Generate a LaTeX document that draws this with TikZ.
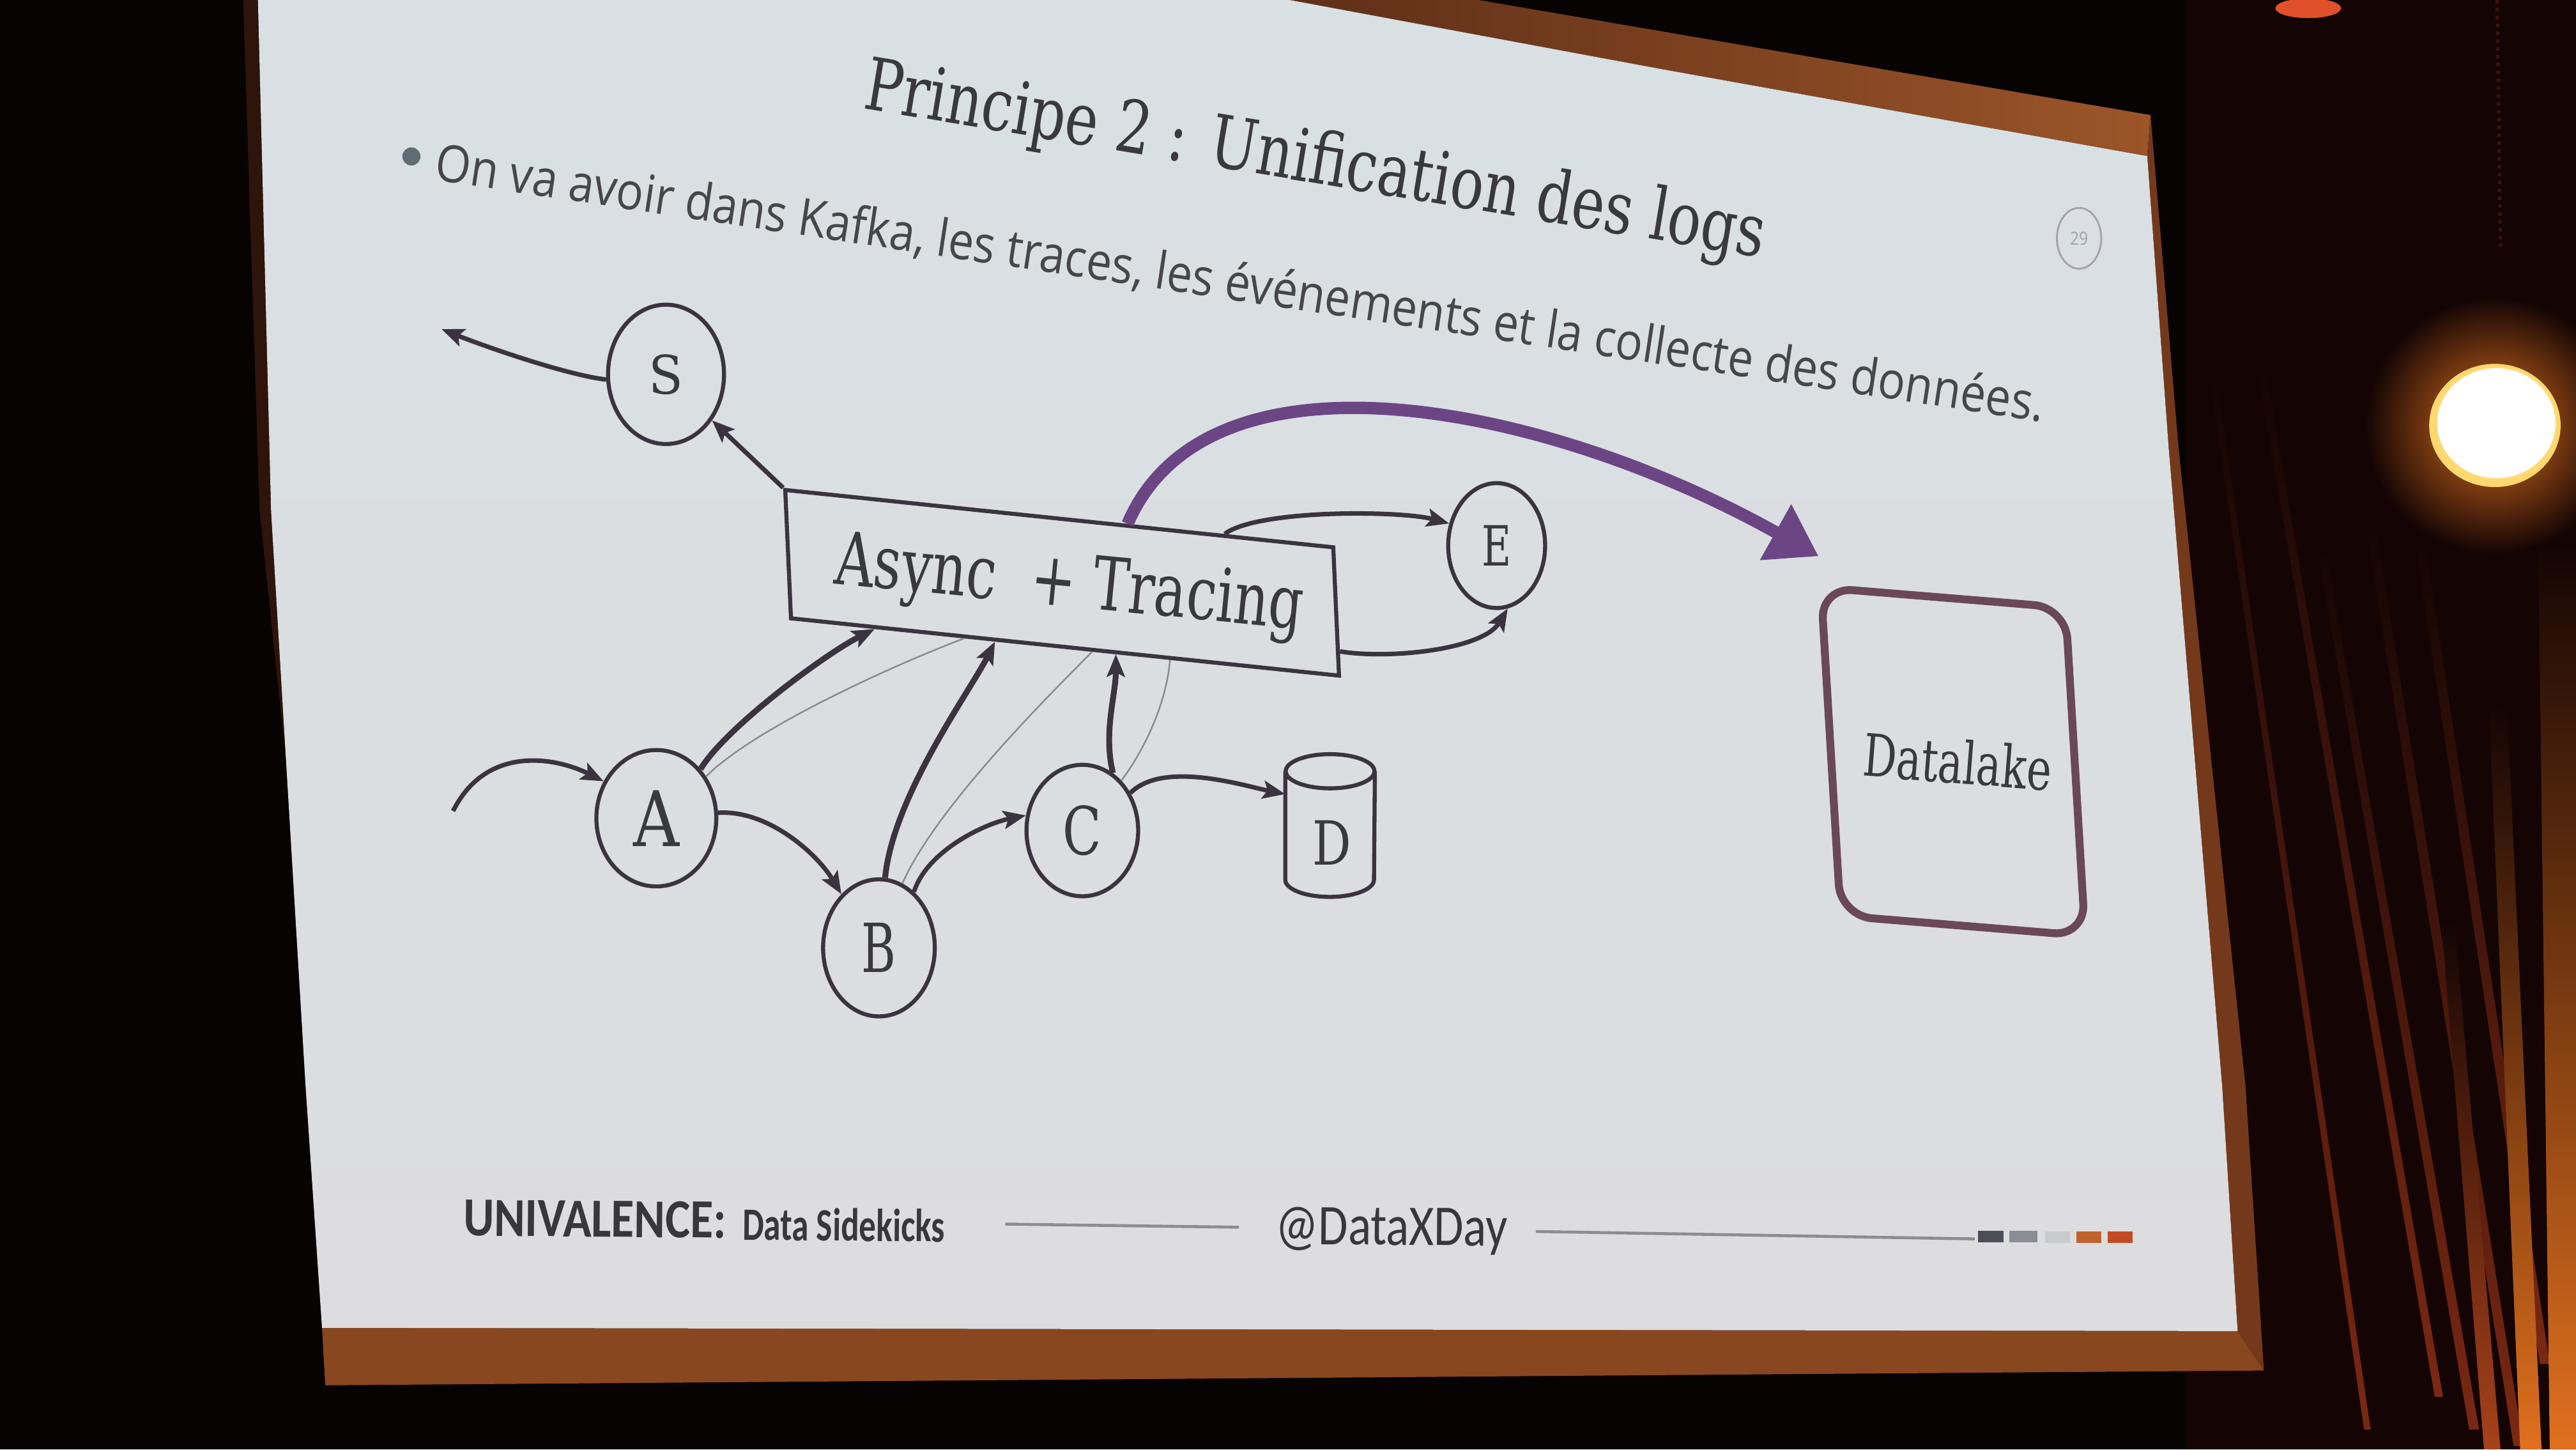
\documentclass[tikz,border=0pt]{standalone}
\usepackage{fontspec}
\usepackage{graphicx}
\usetikzlibrary{arrows.meta,shapes.geometric,calc}
\newfontfamily\serifT{DejaVu Serif}
\newfontfamily\sansT{Open Sans}
\newfontfamily\footT{Carlito}
\newlength\ux \setlength\ux{0.025714cm}
\definecolor{bgdark}{HTML}{070303}
\definecolor{curt}{HTML}{140504}
\definecolor{fold}{HTML}{7A2812}
\definecolor{framec}{HTML}{88471F}
\definecolor{frameside}{HTML}{74391B}
\definecolor{frametl}{HTML}{5E2F17}
\definecolor{frametr}{HTML}{9C5529}
\definecolor{leftstrip}{HTML}{2E140B}
\definecolor{slidetop}{HTML}{D8E0E3}
\definecolor{slidebot}{HTML}{DDDCDF}
\definecolor{lc}{HTML}{3B3440}
\definecolor{thinc}{HTML}{8E8892}
\definecolor{txt}{HTML}{3A393D}
\definecolor{bul}{HTML}{47474A}
\definecolor{bulc}{HTML}{5F6E72}
\definecolor{purp}{HTML}{6C4585}
\definecolor{dlc}{HTML}{6A4859}
\definecolor{pgc}{HTML}{A3A3A8}
\definecolor{foot}{HTML}{38383B}
\definecolor{footl}{HTML}{8D8D91}
\definecolor{sqa}{HTML}{4B4E56}
\definecolor{sqb}{HTML}{8A8D94}
\definecolor{sqc}{HTML}{C9CBCD}
\definecolor{sqd}{HTML}{C0622E}
\definecolor{sqe}{HTML}{C44A24}
\definecolor{orA}{HTML}{E0701E}
\definecolor{orB}{HTML}{A8421A}
\definecolor{lampy}{HTML}{FFD870}
\definecolor{redl}{HTML}{E0502A}
\begin{document}
\begin{tikzpicture}[x=0.025714cm, y=-0.025714cm,
  nodecirc/.style={ellipse, draw=lc, line width=1.8pt, inner sep=0pt, text=txt},
  conn/.style={draw=lc, line width=2pt, -{Stealth[length=10pt,width=8pt,inset=2pt]}},
  thickconn/.style={conn, line width=2.6pt},
  thinline/.style={draw=thinc, line width=0.7pt},
  purparrow/.style={draw=purp, line width=5.5pt, -{Triangle[length=22pt,width=27pt]}},
  txtnode/.style={inner sep=0pt, outer sep=0pt},
  footline/.style={draw=footl, line width=1.3pt},
  foldfill/.style={top color=curt, bottom color=fold},
]
\useasboundingbox (0,0) rectangle (1568,882);
% ---- room background ----
\fill[bgdark] (0,0) rectangle (1568,882);
\fill[curt] (1330,0) rectangle (1568,882);
% curtain folds
\shade[foldfill] (1345,230) -- (1349,230) -- (1443,870) -- (1439,870) -- cycle;
\shade[foldfill] (1374,225) -- (1379,225) -- (1487,850) -- (1482,850) -- cycle;
\shade[foldfill] (1410,330) -- (1415,330) -- (1509,870) -- (1503,870) -- cycle;
\shade[foldfill] (1440,320) -- (1446,320) -- (1536,880) -- (1530,880) -- cycle;
\shade[foldfill] (1470,330) -- (1476,330) -- (1552,830) -- (1546,830) -- cycle;
\shade[top color=curt, bottom color=orB] (1486,560) -- (1494,560) -- (1522,882) -- (1512,882) -- cycle;
\shade[top color=curt, bottom color=orA] (1515,430) -- (1526,430) -- (1547,882) -- (1534,882) -- cycle;
\shade[top color=curt, bottom color=orA] (1545,330) -- (1568,330) -- (1568,882) -- (1552,882) -- cycle;
\draw[curt!60!fold, line width=1.5pt, dotted] (1520,0) -- (1522,150);
% lamp
\shade[inner color=orA, outer color=curt] (1518,259) circle (78);
\fill[lampy] (1518.6,258.9) ellipse (40 and 37.5);
\fill[white] (1519.5,257.5) ellipse (36 and 33.5);
\fill[redl] (1405,5) ellipse (20 and 6);
% ---- screen frame ----
\fill[framec] (196,808) -- (1362,810) -- (1378,834) -- (198,843) -- cycle;
\fill[frameside] (1307,95) -- (1309,70) -- (1326,272) -- (1366.8,661) -- (1378,834) -- (1362,810) -- (1352.6,661) -- (1320,272) -- cycle;
\shade[left color=frametl, right color=frametr] (785,0) -- (900,0) -- (1309,70) -- (1307,95) -- (1011,42) -- cycle;
\fill[leftstrip] (148,0) -- (157,0) -- (165,311) -- (176,480) -- (158,311) -- cycle;
% ---- slide ----
\shade[top color=slidetop, bottom color=slidebot] (157,0) -- (785,0) -- (1011,42) -- (1307,95) -- (1320,272) -- (1352.6,661) -- (1362,810) -- (196,808) -- (186,661) -- (165,311) -- cycle;
% ---- title and bullet ----
\node[txtnode, anchor=base west, rotate=-9.4, text=txt] (title) at (524.7,65.9)
  {\resizebox{555\ux}{33.5\ux}{\serifT Principe 2 : Unification des logs}};
\node[circle, fill=bulc, minimum size=11\ux, inner sep=0pt] (dot) at (250.4,95.2) {};
\node[txtnode, anchor=base west, rotate=-8.55, text=bul] (bullet) at (264,109.5)
  {\resizebox{990\ux}{24\ux}{\sansT On va avoir dans Kafka, les traces, les événements et la collecte des données.}};
\node[ellipse, draw=pgc, line width=0.8pt, minimum width=27\ux, minimum height=37\ux, inner sep=0pt, text=pgc] (pg) at (1265.5,145)
  {\resizebox{11\ux}{8\ux}{\sansT 29}};
% ---- footer ----
\node[txtnode, anchor=base west, rotate=-0.5, text=foot] (univ) at (282,752)
  {\resizebox{160\ux}{22\ux}{\footT\bfseries UNIVALENCE:}};
\node[txtnode, anchor=base west, rotate=-0.5, text=foot] (sidek) at (452,754.6)
  {\resizebox{123\ux}{19.8\ux}{\footT\bfseries Data Sidekicks}};
\node[txtnode, anchor=base west, rotate=-0.5, text=foot] (dxd) at (776.5,757)
  {\resizebox{141\ux}{22.5\ux}{\footT @DataXDay}};
\draw[footline] (611.9,744.9) -- (754.2,746.8);
\draw[footline] (934.8,749.4) -- (1202,753.9);
\fill[sqa] (1204,749) rectangle (1219.5,756);
\fill[sqb] (1223,749) rectangle (1240,756);
\fill[sqc] (1245,749.5) rectangle (1260,756.5);
\fill[sqd] (1264,749.5) rectangle (1279,756.5);
\fill[sqe] (1283,749.5) rectangle (1298,756.5);
% ---- diagram nodes ----
\node[draw=lc, line width=1.8pt, minimum width=335.4\ux, minimum height=77.3\ux, inner sep=0pt,
      rotate=-5.97, xslant=-0.15] (box) at (646.5,354.65) {};
\node[txtnode, anchor=base, rotate=-5.6, text=txt] (boxtxt) at (649.5,369)
  {\resizebox{286\ux}{33\ux}{\serifT Async\ \ + Tracing}};
\node[draw=dlc, line width=3.5pt, rounded corners=14pt, minimum width=149.35\ux, minimum height=198.06\ux,
      inner sep=0pt, rotate=-4.686, xslant=-0.1425] (dl) at (1188.8,463.5) {};
\node[txtnode, anchor=base, rotate=-4.5, text=txt] (dltxt) at (1190.6,476.6)
  {\resizebox{115\ux}{27\ux}{\serifT Datalake}};
\node[nodecirc, minimum width=70.6\ux, minimum height=84.8\ux] (S) at (405.4,227.8) {\resizebox{21\ux}{24\ux}{\serifT S}};
\node[nodecirc, minimum width=73\ux, minimum height=83\ux] (A) at (399.5,497.9) {\resizebox{28\ux}{34\ux}{\serifT A}};
\node[nodecirc, minimum width=68\ux, minimum height=83.4\ux] (B) at (535,576.8) {\resizebox{21\ux}{30\ux}{\serifT B}};
\node[nodecirc, minimum width=68\ux, minimum height=80\ux] (C) at (658.8,505.4) {\resizebox{23.6\ux}{30\ux}{\serifT C}};
\node[nodecirc, minimum width=59\ux, minimum height=76\ux] (E) at (911,332) {\resizebox{18\ux}{24.6\ux}{\serifT E}};
% cylinder D
\node[minimum width=54\ux, minimum height=86.3\ux, inner sep=0pt] (Dc) at (809.6,502.35) {};
\draw[lc, line width=1.8pt] ($(Dc.north)+(0,10.4)$) ellipse (27 and 10.4);
\draw[lc, line width=1.8pt] ($(Dc.north west)+(0,10.4)$) -- ($(Dc.south west)+(0,-10.4)$)
   arc[start angle=180, end angle=0, x radius=27, y radius=10.4] -- ($(Dc.north east)+(0,10.4)$);
\node[txtnode, text=txt] (D) at (810.9,512.8) {\resizebox{23.6\ux}{27\ux}{\serifT D}};
% ---- connectors ----
\coordinate (Sout) at (268.8,200.3);
\coordinate (Ain) at (275.8,493.5);
\coordinate (Dtip) at ($(Dc.north west)!0.28!(Dc.south west)$);
\coordinate (dltip) at (1107,338.5);
\draw[conn] (S.185) .. controls +(-25,-3) and +(25,10) .. (Sout);
\draw[conn] (box.north west) -- (S.-45);
\draw[conn] (Ain) .. controls +(20,-40) and +(-30,-15) .. (A.145);
\draw[conn] (A.5) .. controls +(30,-2) and +(-15,-25) .. (B.125);
\draw[thinline] (A.40) .. controls +(30,-30) and +(-40,15) .. ($(box.south west)!0.317!(box.south east)$);
\draw[thickconn] (A.48) .. controls +(15,-25) and +(-30,15) .. ($(box.south west)!0.155!(box.south east)$);
\draw[thinline] (B.70) .. controls +(20,-45) and +(-30,30) .. ($(box.south west)!0.549!(box.south east)$);
\draw[thickconn] (B.85) .. controls +(5,-50) and +(-15,30) .. ($(box.south west)!0.373!(box.south east)$);
\draw[conn] (B.58) .. controls +(8,-25) and +(-25,5) .. (C.165);
\draw[thinline] (C.52) .. controls +(15,-20) and +(-2,25) .. ($(box.south west)!0.69!(box.south east)$);
\draw[thickconn] (C.62) .. controls +(-6,-25) and +(0,25) .. ($(box.south west)!0.592!(box.south east)$);
\draw[conn] (C.38) .. controls +(20,-20) and +(-25,-5) .. (Dtip);
\draw[conn] ($(box.north west)!0.80!(box.north east)$) .. controls +(20,-15) and +(-30,-8) .. (E.155);
\draw[conn] ($(box.north east)!0.8!(box.south east)$) .. controls +(30,5) and +(-15,25) .. (E.-80);
\draw[purparrow] ($(box.north west)!0.624!(box.north east)$) .. controls (735,205) and (940,245) .. (dltip);
\end{tikzpicture}
\end{document}
